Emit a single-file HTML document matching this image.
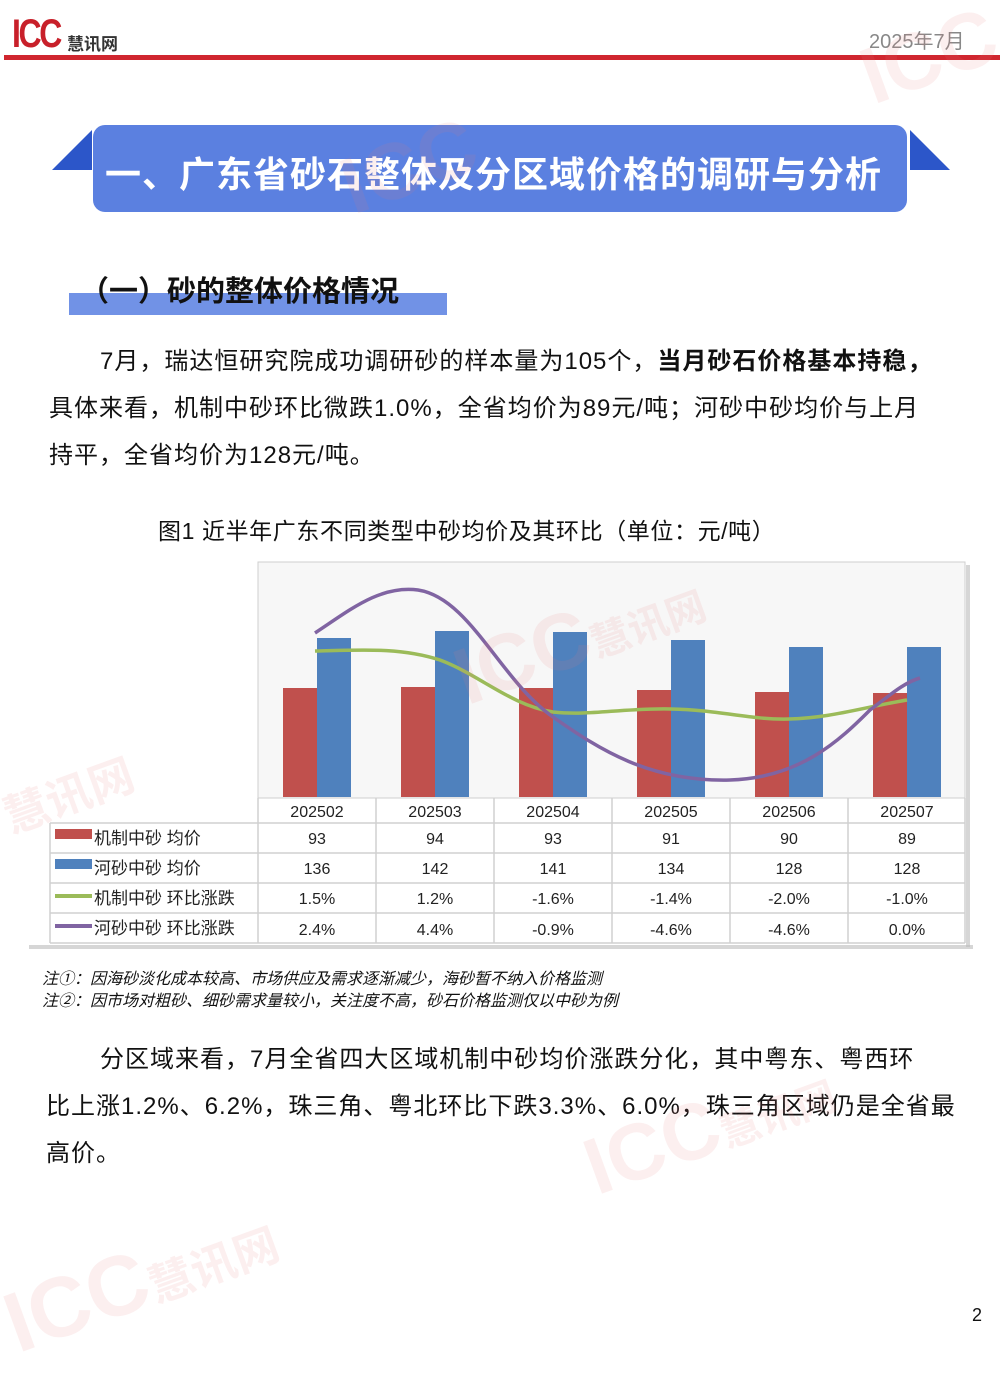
<!DOCTYPE html>
<html><head><meta charset="utf-8">
<style>
body{margin:0;width:1000px;height:1333px;position:relative;background:#fff;overflow:hidden;font-family:"Liberation Sans","Noto Sans CJK SC",sans-serif;color:#111}
.a{position:absolute;white-space:nowrap}
.p{font-size:24px;letter-spacing:1px}
.wm{position:absolute;color:rgba(230,120,120,0.12);font-weight:bold;font-family:"Liberation Sans","Noto Sans CJK SC",sans-serif;transform:rotate(-20deg);white-space:nowrap}
</style></head><body>
<div class="a" style="left:12px;top:14px;font-size:40px;font-weight:bold;color:#c8202a;letter-spacing:-3px;line-height:40px;transform:scaleX(0.8);transform-origin:left">ICC</div>
<div class="a" style="left:67px;top:30px;font-size:17px;font-weight:bold;color:#333">慧讯网</div>
<div class="a" style="left:869px;top:25px;font-size:20px;color:#888">2025年7月</div>
<div class="a" style="left:4px;top:55px;width:996px;height:5px;background:#d0262f"></div>

<svg class="a" style="left:0;top:0" width="1000" height="230">
<polygon points="52,170 92,130 92,170" fill="#2c56c9"/>
<polygon points="910,130 950,170 910,170" fill="#2c56c9"/>
<rect x="93" y="125" width="814" height="87" rx="12" fill="#5b80e0"/>
</svg>
<div class="a" style="left:105px;top:146px;font-size:36px;font-weight:bold;color:#fff;letter-spacing:1px">一、广东省砂石整体及分区域价格的调研与分析</div>

<div class="a" style="left:69px;top:293px;width:378px;height:22px;background:#7192e6"></div>
<div class="a" style="left:80px;top:268px;font-size:29px;font-weight:bold">（一）砂的整体价格情况</div>

<div class="a p" style="left:100px;top:341px">7月，瑞达恒研究院成功调研砂的样本量为105个，<b>当月砂石价格基本持稳，</b></div>
<div class="a p" style="left:49px;top:388px">具体来看，机制中砂环比微跌1.0%，全省均价为89元/吨；河砂中砂均价与上月</div>
<div class="a p" style="left:49px;top:435px">持平，全省均价为128元/吨。</div>

<div class="a" style="left:158px;top:512px;font-size:23px;letter-spacing:0.6px">图1 近半年广东不同类型中砂均价及其环比（单位：元/吨）</div>

<svg class="a" style="left:0;top:0" width="1000" height="960">
<rect x="29" y="945" width="944" height="4" fill="#bbb" opacity="0.6"/>
<rect x="966" y="565" width="4" height="382" fill="#bbb" opacity="0.6"/>
<rect x="258" y="562" width="707" height="236" fill="#f7f7f7" stroke="#cfcfcf"/>
<g fill="#c0504d">
<rect x="283" y="688" width="34" height="109"/>
<rect x="401" y="687" width="34" height="110"/>
<rect x="519" y="688" width="34" height="109"/>
<rect x="637" y="690" width="34" height="107"/>
<rect x="755" y="692" width="34" height="105"/>
<rect x="873" y="693" width="34" height="104"/>
</g>
<g fill="#4f81bd">
<rect x="317" y="638" width="34" height="159"/>
<rect x="435" y="631" width="34" height="166"/>
<rect x="553" y="632" width="34" height="165"/>
<rect x="671" y="640" width="34" height="157"/>
<rect x="789" y="647" width="34" height="150"/>
<rect x="907" y="647" width="34" height="150"/>
</g>
<path d="M315,651 C360,650 400,647 440,660 C480,675 510,705 553,712 C590,716 620,708 671,709 C720,710 750,720 789,719 C830,718 860,708 907,700" fill="none" stroke="#9bbb59" stroke-width="3.5"/>
<path d="M315,633 C350,610 380,585 418,590 C470,598 500,680 553,717 C600,750 650,782 730,780 C800,778 840,740 870,710 C890,695 905,682 920,678" fill="none" stroke="#8064a2" stroke-width="3.5"/>
<g stroke="#d0d0d0" stroke-width="1.5" fill="none">
<line x1="258" y1="823" x2="965" y2="823"/>
<line x1="50" y1="823" x2="258" y2="823"/>
<line x1="50" y1="853" x2="965" y2="853"/>
<line x1="50" y1="883" x2="965" y2="883"/>
<line x1="50" y1="913" x2="965" y2="913"/>
<line x1="50" y1="943" x2="965" y2="943"/>
<line x1="50" y1="823" x2="50" y2="943"/>
<line x1="258" y1="798" x2="258" y2="943"/>
<line x1="376" y1="798" x2="376" y2="943"/>
<line x1="494" y1="798" x2="494" y2="943"/>
<line x1="612" y1="798" x2="612" y2="943"/>
<line x1="730" y1="798" x2="730" y2="943"/>
<line x1="848" y1="798" x2="848" y2="943"/>
<line x1="965" y1="798" x2="965" y2="943"/>
</g>
<rect x="55" y="829" width="37" height="10" fill="#c0504d"/>
<rect x="55" y="859" width="37" height="10" fill="#4f81bd"/>
<line x1="55" y1="896" x2="92" y2="896" stroke="#9bbb59" stroke-width="4"/>
<line x1="55" y1="926" x2="92" y2="926" stroke="#8064a2" stroke-width="4"/>
<g font-size="17" fill="#222" font-family="Liberation Sans,Noto Sans CJK SC,sans-serif">
<text x="94" y="844">机制中砂 均价</text>
<text x="94" y="874">河砂中砂 均价</text>
<text x="94" y="904">机制中砂 环比涨跌</text>
<text x="94" y="934">河砂中砂 环比涨跌</text>
</g>
<g font-size="16" fill="#222" text-anchor="middle" font-family="Liberation Sans,sans-serif">
<text x="317" y="817">202502</text><text x="435" y="817">202503</text><text x="553" y="817">202504</text><text x="671" y="817">202505</text><text x="789" y="817">202506</text><text x="907" y="817">202507</text>
<text x="317" y="844">93</text><text x="435" y="844">94</text><text x="553" y="844">93</text><text x="671" y="844">91</text><text x="789" y="844">90</text><text x="907" y="844">89</text>
<text x="317" y="874">136</text><text x="435" y="874">142</text><text x="553" y="874">141</text><text x="671" y="874">134</text><text x="789" y="874">128</text><text x="907" y="874">128</text>
<text x="317" y="904">1.5%</text><text x="435" y="904">1.2%</text><text x="553" y="904">-1.6%</text><text x="671" y="904">-1.4%</text><text x="789" y="904">-2.0%</text><text x="907" y="904">-1.0%</text>
<text x="317" y="935">2.4%</text><text x="435" y="935">4.4%</text><text x="553" y="935">-0.9%</text><text x="671" y="935">-4.6%</text><text x="789" y="935">-4.6%</text><text x="907" y="935">0.0%</text>
</g>
</svg>

<div class="a" style="left:42px;top:969px;font-size:16px;font-style:italic;line-height:22px">注①：因海砂淡化成本较高、市场供应及需求逐渐减少，海砂暂不纳入价格监测<br>注②：因市场对粗砂、细砂需求量较小，关注度不高，砂石价格监测仅以中砂为例</div>

<div class="a p" style="left:100px;top:1039px">分区域来看，7月全省四大区域机制中砂均价涨跌分化，其中粤东、粤西环</div>
<div class="a p" style="left:46px;top:1086px">比上涨1.2%、6.2%，珠三角、粤北环比下跌3.3%、6.0%，珠三角区域仍是全省最</div>
<div class="a p" style="left:46px;top:1133px">高价。</div>

<div class="a" style="left:972px;top:1305px;font-size:18px">2</div>

<div class="wm" style="left:340px;top:120px;font-size:80px">ICC</div>
<div class="wm" style="left:860px;top:10px;font-size:80px">ICC</div>
<div class="wm" style="left:450px;top:590px;font-size:80px">ICC<span style="font-size:40px">慧讯网</span></div>
<div class="wm" style="left:0px;top:760px;font-size:45px">慧讯网</div>
<div class="wm" style="left:580px;top:1080px;font-size:80px">ICC<span style="font-size:40px">慧讯网</span></div>
<div class="wm" style="left:0px;top:1230px;font-size:85px">ICC<span style="font-size:45px">慧讯网</span></div>
</body></html>
